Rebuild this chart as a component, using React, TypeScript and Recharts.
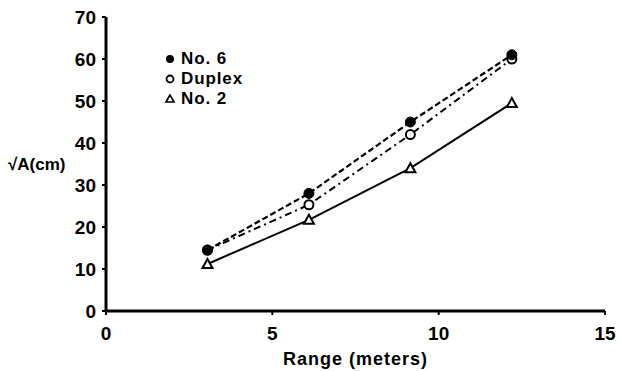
import React from 'react';
import { ComposedChart, Line, XAxis, YAxis } from 'recharts';

const rangeMeters = [3.05, 6.1, 9.15, 12.2];
const no6 = [14.5, 28, 45, 61];
const duplex = [14.5, 25.3, 42, 60];
const no2 = [11.2, 21.7, 34, 49.5];
const xTicks = [0, 5, 10, 15];
const yTicks = [0, 10, 20, 30, 40, 50, 60, 70];
const seriesNames = ['No. 6', 'Duplex', 'No. 2'];

const data = rangeMeters.map((x, i) => ({ x, no6: no6[i], duplex: duplex[i], no2: no2[i] }));

const FONT = 'Liberation Sans, Arial, Helvetica, sans-serif';

const FilledDot = (p: any) => <circle cx={p.cx} cy={p.cy} r={5} fill="#000" stroke="#000" strokeWidth={1} />;
const OpenDot = (p: any) => <circle cx={p.cx} cy={p.cy} r={4.5} fill="#fff" stroke="#000" strokeWidth={2} />;
const TriDot = (p: any) => (
  <polygon
    points={`${p.cx},${p.cy - 5} ${p.cx - 5},${p.cy + 4} ${p.cx + 5},${p.cy + 4}`}
    fill="#fff"
    stroke="#000"
    strokeWidth={2}
  />
);

const icons = [
  <circle cx={6} cy={9} r={4} fill="#000" />,
  <circle cx={6} cy={9} r={3.5} fill="#fff" stroke="#000" strokeWidth={1.8} />,
  <polygon points="6,5 2,12 10,12" fill="#fff" stroke="#000" strokeWidth={1.6} />,
];

const LegendBox = () => (
  <div
    style={{
      position: 'absolute',
      left: 164,
      top: 49,
      fontFamily: FONT,
      fontWeight: 'bold',
      fontSize: 17,
      color: '#000',
      letterSpacing: 0.9,
    }}
  >
    {seriesNames.map((name, i) => (
      <div key={name} style={{ display: 'flex', alignItems: 'center', height: 20 }}>
        <svg width={14} height={18}>{icons[i]}</svg>
        <span style={{ marginLeft: 3 }}>{name}</span>
      </div>
    ))}
  </div>
);

export default function App() {
  return (
    <div style={{ position: 'absolute', left: 0, top: 0, width: 620, height: 371, background: '#fff' }}>
      <ComposedChart width={620} height={371} data={data} margin={{ top: 17, right: 15, left: 0, bottom: 0 }}>
        <XAxis
          type="number"
          dataKey="x"
          domain={[0, 15]}
          ticks={xTicks}
          height={60}
          axisLine={{ stroke: '#000', strokeWidth: 3 }}
          tickLine={{ stroke: '#000', strokeWidth: 2 }}
          tickSize={4}
          tickMargin={12}
          tick={{ fill: '#000', fontFamily: FONT, fontWeight: 'bold', fontSize: 19 }}
          label={{
            value: 'Range (meters)',
            position: 'insideBottom',
            offset: 6,
            style: { fill: '#000', fontFamily: FONT, fontWeight: 'bold', fontSize: 18, letterSpacing: 1 },
          }}
        />
        <YAxis
          type="number"
          domain={[0, 70]}
          ticks={yTicks}
          width={106}
          axisLine={{ stroke: '#000', strokeWidth: 3 }}
          tickLine={{ stroke: '#000', strokeWidth: 2 }}
          tickSize={4}
          tickMargin={6}
          tick={{ fill: '#000', fontFamily: FONT, fontWeight: 'bold', fontSize: 19 }}
          label={{
            value: '√A(cm)',
            position: 'insideLeft',
            offset: 8,
            style: { fill: '#000', fontFamily: FONT, fontWeight: 'bold', fontSize: 17, textAnchor: 'start' },
          }}
        />
        <Line
          type="linear"
          dataKey="no2"
          name={seriesNames[2]}
          stroke="#000"
          strokeWidth={2}
          dot={<TriDot />}
          isAnimationActive={false}
        />
        <Line
          type="linear"
          dataKey="duplex"
          name={seriesNames[1]}
          stroke="#000"
          strokeWidth={2}
          strokeDasharray="7 4 2 4"
          dot={<OpenDot />}
          isAnimationActive={false}
        />
        <Line
          type="linear"
          dataKey="no6"
          name={seriesNames[0]}
          stroke="#000"
          strokeWidth={2.2}
          strokeDasharray="6 3"
          dot={<FilledDot />}
          isAnimationActive={false}
        />
      </ComposedChart>
      <LegendBox />
    </div>
  );
}
